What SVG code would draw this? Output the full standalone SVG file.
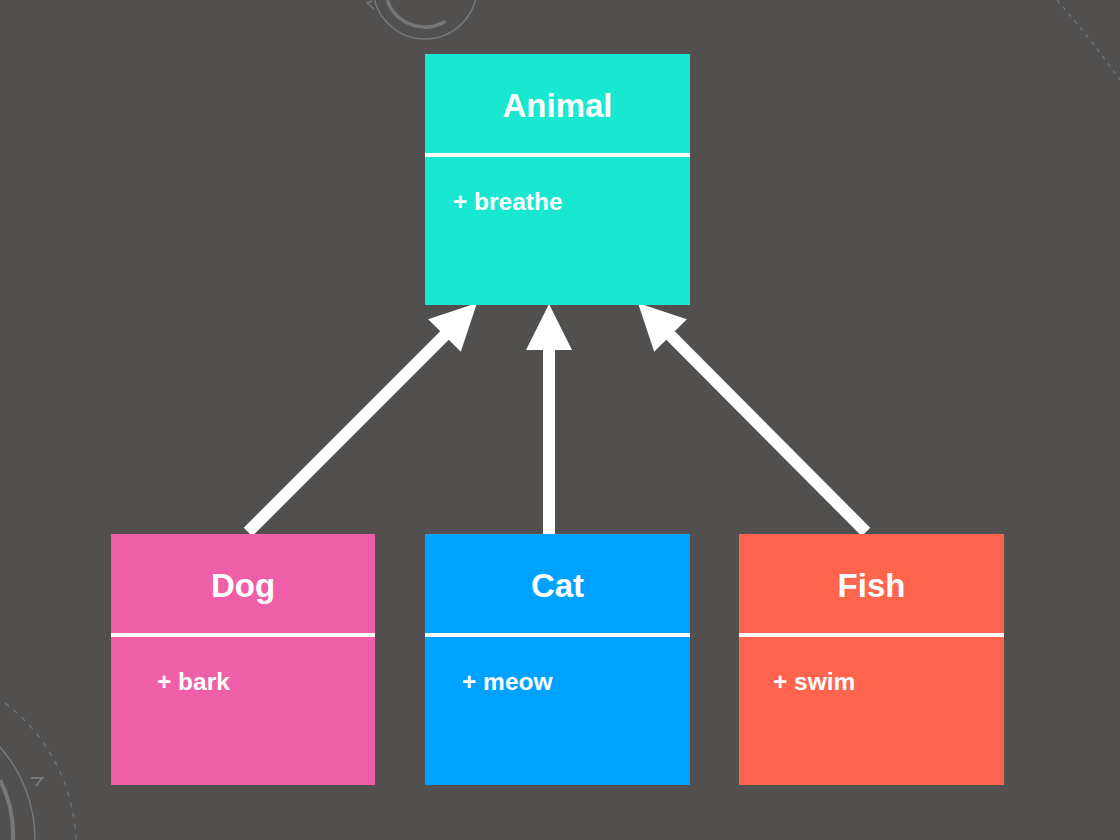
<svg xmlns="http://www.w3.org/2000/svg" width="1120" height="840" viewBox="0 0 1120 840">
<style>
.title{font-family:"Liberation Sans",Arial,sans-serif;font-weight:bold;font-size:33px;fill:#fff;text-anchor:middle}
.member{font-family:"Liberation Sans",Arial,sans-serif;font-weight:bold;font-size:24.5px;fill:#fff}
.div{stroke:#fff;stroke-width:4}
.deco{fill:none;stroke:#77767a}
.conn{stroke:#fff;stroke-width:12;fill:none}
.head{fill:#fff}
</style>
<rect width="1120" height="840" fill="#52504e"/>
<g id="decor">
<circle class="deco" cx="425" cy="-13" r="52" stroke-width="1.5"/>
<path class="deco" d="M445.6,21.3 A40,40 0 0 1 387.2,0" stroke-width="3.5"/>
<path d="M367,3 L374,9 M367,3 L372,1" stroke="#77767a" stroke-width="1.5" fill="none"/>
<path class="deco" d="M1057,0 Q1090,38 1120,80" stroke-width="1.2" stroke-dasharray="4,5"/>
<path class="deco" d="M5,703 A180,180 0 0 1 76,840" stroke-width="1.2" stroke-dasharray="5,6"/>
<path class="deco" d="M0,747 A141,141 0 0 1 35,840" stroke-width="1.5"/>
<path class="deco" d="M0,780 A120,120 0 0 1 13,840" stroke-width="4"/>
<path d="M31,778 L42,778 L36,786" stroke="#77767a" stroke-width="2" fill="none"/>
</g>
<g id="connectors">
<line class="conn" x1="248" y1="532" x2="446" y2="334"/>
<polygon class="head" points="477,303 428.2,319.2 460.8,351.8"/>
<line class="conn" x1="549" y1="534" x2="549" y2="348"/>
<polygon class="head" points="549,304 526,350 572,350"/>
<line class="conn" x1="866" y1="532" x2="669" y2="334"/>
<polygon class="head" points="638,303 686.8,319.2 654.2,351.8"/>
</g>
<g id="animal">
<rect x="425" y="54" width="265" height="251" fill="#19e8d0"/>
<line class="div" x1="425" y1="155" x2="690" y2="155"/>
<text class="title" x="557.5" y="117">Animal</text>
<text class="member" x="453" y="210">+ breathe</text>
</g>
<g id="dog">
<rect x="111" y="534" width="264" height="251" fill="#ef5fa7"/>
<line class="div" x1="111" y1="635" x2="375" y2="635"/>
<text class="title" x="243" y="597">Dog</text>
<text class="member" x="157" y="690">+ bark</text>
</g>
<g id="cat">
<rect x="425" y="534" width="265" height="251" fill="#00a2ff"/>
<line class="div" x1="425" y1="635" x2="690" y2="635"/>
<text class="title" x="557.5" y="597">Cat</text>
<text class="member" x="462" y="690">+ meow</text>
</g>
<g id="fish">
<rect x="739" y="534" width="265" height="251" fill="#ff644e"/>
<line class="div" x1="739" y1="635" x2="1004" y2="635"/>
<text class="title" x="871.5" y="597">Fish</text>
<text class="member" x="773" y="690">+ swim</text>
</g>
</svg>
